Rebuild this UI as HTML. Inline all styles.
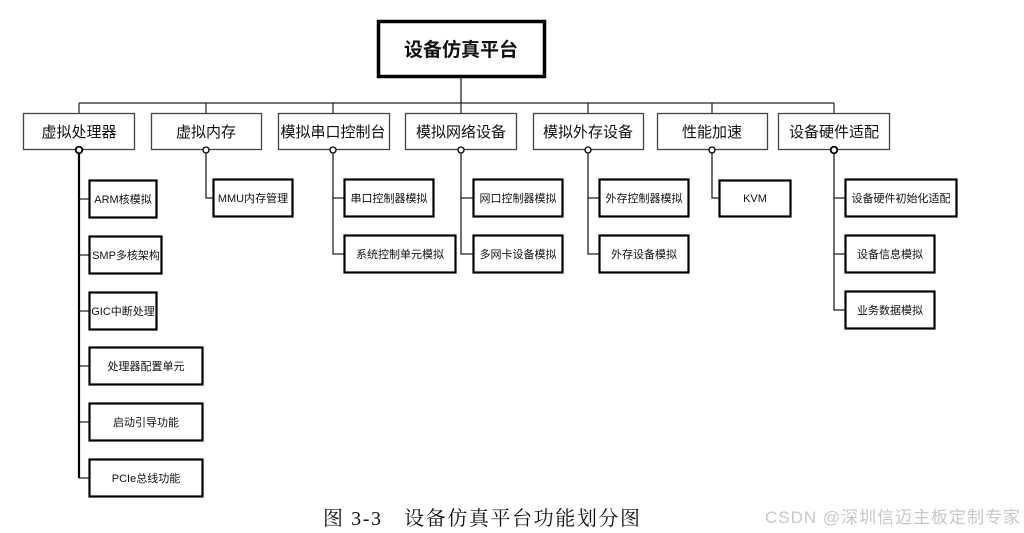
<!DOCTYPE html>
<html><head><meta charset="utf-8"><style>
html,body{margin:0;padding:0;background:#fff;width:1024px;height:533px;overflow:hidden}
svg text{font-family:"Liberation Sans","Noto Sans CJK SC",sans-serif;fill:#111}
</style></head><body>
<svg width="1024" height="533" viewBox="0 0 1024 533" xmlns="http://www.w3.org/2000/svg">
<g fill="none" stroke="#222">
<!-- top -->
<rect x="378.5" y="21.5" width="166" height="55" stroke-width="3.5" stroke="#000"/>
<line x1="461" y1="77" x2="461" y2="103" stroke-width="1.3"/>
<line x1="79" y1="103" x2="834" y2="103" stroke-width="1.3"/>
<g stroke-width="1.2">
<line x1="79" y1="103" x2="79" y2="113"/><line x1="206" y1="103" x2="206" y2="113"/>
<line x1="333" y1="103" x2="333" y2="113"/><line x1="461" y1="103" x2="461" y2="113"/>
<line x1="588" y1="103" x2="588" y2="113"/><line x1="712" y1="103" x2="712" y2="113"/>
<line x1="834" y1="103" x2="834" y2="113"/>
</g>
<!-- level 1 -->
<g stroke-width="1.3" stroke="#444">
<rect x="23.5" y="113.5" width="111" height="36"/>
<rect x="151.5" y="113.5" width="110" height="36"/>
<rect x="278.5" y="113.5" width="111" height="36"/>
<rect x="405.5" y="113.5" width="111" height="36"/>
<rect x="533.5" y="113.5" width="110" height="36"/>
<rect x="657.5" y="113.5" width="110" height="36"/>
<rect x="778.5" y="113.5" width="111" height="36"/>
</g>
<!-- connectors -->
<g stroke-width="1.3">
<path d="M79 150V478" stroke-width="2.2" stroke="#000"/>
<path d="M79 199H89M79 255H89M79 311H89M79 366H89M79 422H89M79 478H89"/>
<path d="M206 150V198H213"/>
<path d="M333 150V254H344M333 198H344"/>
<path d="M461 150V254H473M461 198H473"/>
<path d="M588 150V254H599M588 198H599"/>
<path d="M712 150V198H719"/>
<path d="M834 150V310H845M834 198H845M834 254H845"/>
</g>
<!-- level 2 boxes -->
<g stroke-width="2.2" stroke="#000">
<rect x="89.5" y="180.5" width="67" height="37"/>
<rect x="89.5" y="236.5" width="72" height="37"/>
<rect x="89.5" y="292.5" width="67" height="37"/>
<rect x="89.5" y="347.5" width="113" height="37"/>
<rect x="89.5" y="403.5" width="113" height="37"/>
<rect x="89.5" y="459.5" width="113" height="37"/>
<rect x="213.5" y="179.5" width="79" height="37"/>
<rect x="344.5" y="179.5" width="89" height="37"/>
<rect x="344.5" y="235.5" width="111" height="37"/>
<rect x="473.5" y="179.5" width="89" height="37"/>
<rect x="473.5" y="235.5" width="89" height="37"/>
<rect x="599.5" y="179.5" width="89" height="37"/>
<rect x="599.5" y="235.5" width="89" height="37"/>
<rect x="719.5" y="180.5" width="71" height="36"/>
<rect x="845.5" y="179.5" width="111" height="37"/>
<rect x="845.5" y="235.5" width="89" height="37"/>
<rect x="845.5" y="291.5" width="89" height="37"/>
</g>
<g fill="#fff" stroke-width="1.3" stroke="#000">
<circle cx="79" cy="150" r="3.3" stroke-width="1.8"/><circle cx="206" cy="150" r="3"/>
<circle cx="333" cy="150" r="3"/><circle cx="461" cy="150" r="3"/>
<circle cx="588" cy="150" r="3"/><circle cx="712" cy="150" r="3"/>
<circle cx="834" cy="150" r="3.3" stroke-width="1.8"/>
</g>
</g>
<text x="461" y="56" font-size="19" font-weight="bold" text-anchor="middle">设备仿真平台</text>
<g font-size="15" text-anchor="middle">
<text x="79" y="137">虚拟处理器</text><text x="206" y="137">虚拟内存</text>
<text x="333" y="137">模拟串口控制台</text><text x="461" y="137">模拟网络设备</text>
<text x="588" y="137">模拟外存设备</text><text x="712" y="137">性能加速</text>
<text x="834" y="137">设备硬件适配</text>
</g>
<g font-size="11" text-anchor="middle">
<text x="123" y="203">ARM核模拟</text>
<text x="126" y="259">SMP多核架构</text>
<text x="123" y="315">GIC中断处理</text>
<text x="146" y="370">处理器配置单元</text>
<text x="146" y="426">启动引导功能</text>
<text x="146" y="482">PCIe总线功能</text>
<text x="253" y="202">MMU内存管理</text>
<text x="389" y="202">串口控制器模拟</text>
<text x="400" y="258">系统控制单元模拟</text>
<text x="518" y="202">网口控制器模拟</text>
<text x="518" y="258">多网卡设备模拟</text>
<text x="644" y="202">外存控制器模拟</text>
<text x="644" y="258">外存设备模拟</text>
<text x="755" y="202">KVM</text>
<text x="901" y="202">设备硬件初始化适配</text>
<text x="890" y="258">设备信息模拟</text>
<text x="890" y="314">业务数据模拟</text>
</g>
<text x="323" y="525" font-size="20" style="font-family:'Liberation Serif','Noto Serif CJK SC',serif" textLength="317">图 3-3　设备仿真平台功能划分图</text>
<text x="765" y="523" font-size="17" style="fill:#c8c8c8" textLength="255">CSDN @深圳信迈主板定制专家</text>
</svg>
</body></html>
